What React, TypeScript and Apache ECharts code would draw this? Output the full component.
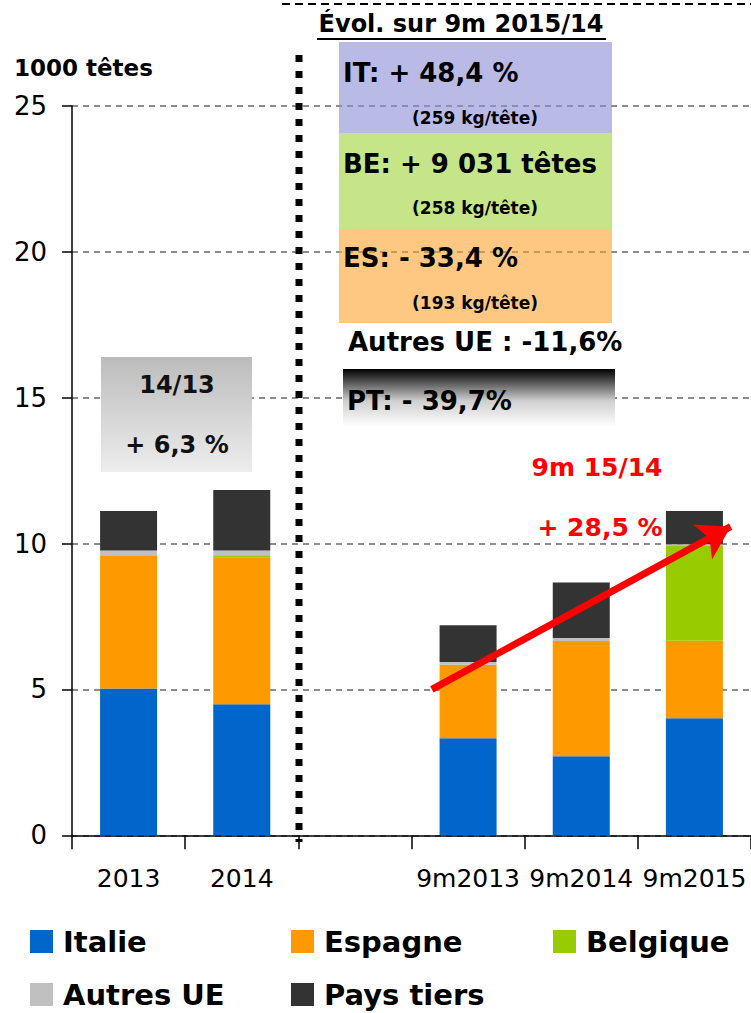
import React, { useEffect, useRef } from "react";
import * as echarts from "echarts";

const categories = ["2013", "2014", "", "9m2013", "9m2014", "9m2015"];
const italie = [5.03, 4.49, "-", 3.33, 2.71, 4.01];
const espagne = [4.57, 5.04, "-", 2.52, 3.95, 2.66];
const belgique = [0, 0.07, "-", 0, 0, 3.27];
const autresUE = [0.16, 0.16, "-", 0.09, 0.1, 0.04];
const paysTiers = [1.36, 2.08, "-", 1.26, 1.91, 1.14];
const seriesNames = ["Italie", "Espagne", "Belgique", "Autres UE", "Pays tiers"];
const seriesColors = ["#0066CC", "#FF9900", "#99CC00", "#C0C0C0", "#333333"];
const yTicks = { min: 0, max: 25, interval: 5 };
// arrow annotation in data space (hidden value x axis 0..6, y in 1000 têtes)
const arrowStart = [3.18, 5.0];
const arrowEnd = [5.82, 10.58];

const FONT = "DejaVu Sans";

export default function App() {
  const ref = useRef<HTMLDivElement>(null);
  useEffect(() => {
    if (!ref.current) return;
    const chart = echarts.init(ref.current, undefined, { renderer: "svg" });
    const dataArr = [italie, espagne, belgique, autresUE, paysTiers];
    const barSeries = seriesNames.map((name, i) => ({
      name,
      type: "bar",
      stack: "total",
      barWidth: 57,
      data: dataArr[i],
      itemStyle: { color: seriesColors[i] },
      silent: true,
    }));
    const legendPos = [
      [30, 927],
      [291, 927],
      [553, 927],
      [30, 980],
      [291, 980],
    ];
    const legends = seriesNames.map((name, i) => ({
      data: [name],
      left: legendPos[i][0],
      top: legendPos[i][1],
      padding: 0,
      icon: "rect",
      itemWidth: 23,
      itemHeight: 23,
      selectedMode: false,
      textStyle: {
        fontFamily: FONT,
        fontWeight: "bold",
        fontSize: 29,
        color: "#000",
        padding: [0, 0, 0, 5],
      },
    }));
    const boldText = (x: number, y: number, text: string, size: number, align = "left", color = "#000") => ({
      type: "text",
      x,
      y,
      z: 110,
      silent: true,
      style: {
        text,
        fill: color,
        font: `bold ${size}px "${FONT}"`,
        textAlign: align,
        textVerticalAlign: "middle",
      },
    });
    chart.setOption({
      animation: false,
      grid: { left: 72, top: 106, width: 681, height: 729.3, containLabel: false },
      legend: legends,
      xAxis: [
        {
          type: "category",
          data: categories,
          axisLine: { lineStyle: { color: "#000", width: 1.5 } },
          axisTick: { show: true, interval: 0, length: 14, lineStyle: { color: "#000", width: 1.5 } },
          axisLabel: { color: "#000", fontFamily: FONT, fontSize: 25, margin: 31, interval: 0 },
          splitLine: { show: false },
        },
        { type: "value", min: 0, max: 6, show: false },
      ],
      yAxis: {
        type: "value",
        min: yTicks.min,
        max: yTicks.max,
        interval: yTicks.interval,
        axisLine: { show: true, lineStyle: { color: "#000", width: 1.5 } },
        axisTick: { show: true, length: 10, lineStyle: { color: "#000", width: 1.5 } },
        axisLabel: { color: "#000", fontFamily: FONT, fontSize: 26, margin: 25 },
        splitLine: { show: true, lineStyle: { color: "#8c8c8c", width: 2, type: [6, 5] } },
      },
      series: [
        ...barSeries,
        {
          name: "arrow",
          type: "line",
          xAxisIndex: 1,
          yAxisIndex: 0,
          data: [],
          silent: true,
          z: 20,
          markLine: {
            silent: true,
            animation: false,
            symbol: ["none", "arrow"],
            symbolSize: [30, 32],
            label: { show: false },
            lineStyle: { color: "#FF0000", width: 7, type: "solid" },
            data: [[{ coord: arrowStart }, { coord: arrowEnd }]],
          },
        },
      ],
      graphic: [
        // top dashed frame line
        { type: "line", z: 100, silent: true, shape: { x1: 282, y1: 4, x2: 751, y2: 4 }, style: { stroke: "#000", lineWidth: 2, lineDash: [8, 5] } },
        // dotted separator
        { type: "line", z: 100, silent: true, shape: { x1: 299, y1: 55, x2: 299, y2: 842 }, style: { stroke: "#000", lineWidth: 7, lineDash: [7, 9] } },
        // title
        boldText(461, 24, "Évol. sur 9m 2015/14", 24, "center"),
        { type: "line", z: 100, silent: true, shape: { x1: 317, y1: 39, x2: 606, y2: 39 }, style: { stroke: "#000", lineWidth: 2 } },
        // IT / BE / ES boxes
        { type: "rect", z: 100, silent: true, shape: { x: 339, y: 42, width: 273, height: 91 }, style: { fill: "rgba(140,140,215,0.6)" } },
        { type: "rect", z: 100, silent: true, shape: { x: 339, y: 133, width: 273, height: 97 }, style: { fill: "rgba(155,210,50,0.58)" } },
        { type: "rect", z: 100, silent: true, shape: { x: 339, y: 230, width: 273, height: 93 }, style: { fill: "rgba(255,160,40,0.58)" } },
        boldText(343, 73, "IT: + 48,4 %", 26),
        boldText(475, 118, "(259 kg/tête)", 17, "center"),
        boldText(343, 164, "BE: + 9 031 têtes", 26),
        boldText(475, 208, "(258 kg/tête)", 17, "center"),
        boldText(343, 258, "ES: - 33,4 %", 26),
        boldText(475, 303, "(193 kg/tête)", 17, "center"),
        boldText(348, 342, "Autres UE : -11,6%", 26),
        // PT box
        {
          type: "rect",
          z: 100,
          silent: true,
          shape: { x: 343, y: 369, width: 272, height: 58 },
          style: {
            fill: new echarts.graphic.LinearGradient(0, 0, 0, 1, [
              { offset: 0, color: "#000000" },
              { offset: 0.55, color: "#cfcfcf" },
              { offset: 1, color: "#ffffff" },
            ]),
          },
        },
        boldText(347, 401, "PT: - 39,7%", 26),
        // 14/13 box
        {
          type: "rect",
          z: 100,
          silent: true,
          shape: { x: 101, y: 357, width: 151, height: 115 },
          style: {
            fill: new echarts.graphic.LinearGradient(0, 0, 0, 1, [
              { offset: 0, color: "#bcbcbc" },
              { offset: 1, color: "#ededed" },
            ]),
          },
        },
        boldText(177, 385, "14/13", 24, "center", "#111"),
        boldText(177, 445, "+ 6,3 %", 24, "center", "#111"),
        // red annotation
        boldText(597, 467, "9m 15/14", 25, "center", "#FF0000"),
        boldText(600, 527, "+ 28,5 %", 25, "center", "#FF0000"),
        // unit label
        boldText(14, 68, "1000 têtes", 23),
      ],
    });
    return () => chart.dispose();
  }, []);
  return (
    <div
      ref={ref}
      style={{ position: "absolute", left: 0, top: 0, width: 751, height: 1013, background: "#fff" }}
    />
  );
}
